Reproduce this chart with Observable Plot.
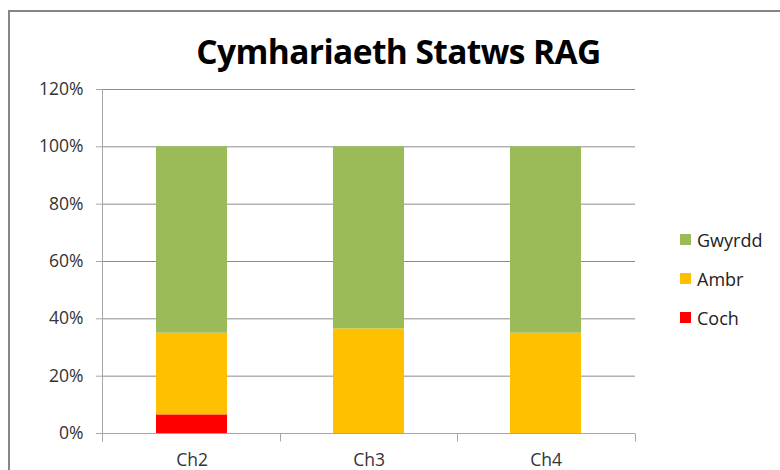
<!DOCTYPE html>
<html>
<head>
<meta charset="utf-8">
<script src="https://cdn.jsdelivr.net/npm/d3@7"></script>
<script src="https://cdn.jsdelivr.net/npm/@observablehq/plot@0.6"></script>
<style>
  html, body { margin: 0; padding: 0; background: #fff; }
  #wrap { position: relative; width: 780px; height: 470px; overflow: hidden; font-family: "Open Sans", sans-serif; }
  #border { position: absolute; left: 8px; top: 10px; width: 800px; height: 500px; border-left: 2px solid #868686; border-top: 2px solid #868686; box-sizing: border-box; pointer-events: none; }
  #title { position: absolute; left: 0; width: 797px; top: 30px; text-align: center; font-weight: 700; font-size: 33.5px; color: #000; letter-spacing: -0.6px; line-height: 42px; }
  #legend { position: absolute; left: 680px; top: 220px; font-size: 18px; color: #222; }
  .item { display: flex; align-items: center; height: 39px; }
  .sw { width: 11px; height: 11px; margin-right: 6px; }
  #chart { position: absolute; left: 0; top: 0; }
</style>
</head>
<body>
<div id="wrap">
  <div id="chart"></div>
  <div id="border"></div>
  <div id="title">Cymhariaeth Statws RAG</div>
  <div id="legend"></div>
</div>
<script>
// Data (fractions of 100%)
const categories = ["Ch2", "Ch3", "Ch4"];
const seriesNames = ["Gwyrdd", "Ambr", "Coch"];   // legend order (top to bottom)
const stackOrder = ["Coch", "Ambr", "Gwyrdd"];    // stack order (bottom to top)
const coch   = [0.065, 0, 0];
const ambr   = [0.285, 0.365, 0.35];
const gwyrdd = [0.65, 0.635, 0.65];
const yTicks = [0, 0.2, 0.4, 0.6, 0.8, 1.0, 1.2];
const seriesColors = {Gwyrdd: "#9BBB59", Ambr: "#FFC000", Coch: "#FF0000"};

const valuesBySeries = {Coch: coch, Ambr: ambr, Gwyrdd: gwyrdd};
const rows = [];
for (const s of stackOrder) {
  categories.forEach((c, i) => rows.push({cat: c, series: s, value: valuesBySeries[s][i]}));
}

const axisColor = "#a6a6a6";
const gridColor = "#8c8c8c";

function axisLines(index, scales, values, dims) {
  const {width, marginLeft, marginRight} = dims;
  const n = categories.length;
  const step = (width - marginLeft - marginRight) / n;
  const y0 = Math.round(scales.y(0)) + 0.5;
  const yTop = Math.round(scales.y(yTicks[yTicks.length - 1])) + 0.5;
  const g = d3.create("svg:g").attr("stroke", axisColor).attr("stroke-width", 1);
  const xl = Math.round(marginLeft) + 0.5;
  g.append("line").attr("x1", xl).attr("x2", xl).attr("y1", yTop).attr("y2", y0 + 8);
  for (let i = 0; i <= n; i++) {
    const x = Math.round(marginLeft + i * step) + 0.5;
    g.append("line").attr("x1", x).attr("x2", x).attr("y1", y0).attr("y2", y0 + 8);
  }
  return g.node();
}

const plot = Plot.plot({
  width: 780,
  height: 470,
  marginLeft: 102,
  marginRight: 145,
  marginTop: 89,
  marginBottom: 37,
  style: {fontFamily: "Open Sans, sans-serif", fontSize: "17.5px", color: "#333", background: "transparent"},
  x: {domain: categories, paddingInner: 0.6, paddingOuter: 0.3, label: null},
  y: {domain: [0, 1.2], label: null},
  color: {domain: seriesNames, range: seriesNames.map(s => seriesColors[s])},
  marks: [
    Plot.gridY(yTicks, {stroke: gridColor, strokeOpacity: 1}),
    Plot.barY(rows, {x: "cat", y: "value", fill: "series", order: stackOrder}),
    Plot.ruleY([0], {stroke: axisColor}),
    Plot.axisY(yTicks, {tickFormat: d3.format(".0%"), tickSize: 6, tickPadding: 13, stroke: axisColor, fill: "#333", fontSize: 17.5, label: null}),
    Plot.axisX({tickSize: 0, tickPadding: 20, fill: "#333", fontSize: 17.5, label: null}),
    axisLines
  ]
});
document.getElementById("chart").appendChild(plot);

const legend = document.getElementById("legend");
for (const s of seriesNames) {
  const item = document.createElement("div");
  item.className = "item";
  const sw = document.createElement("div");
  sw.className = "sw";
  sw.style.background = seriesColors[s];
  const t = document.createElement("span");
  t.textContent = s;
  item.appendChild(sw);
  item.appendChild(t);
  legend.appendChild(item);
}
</script>
</body>
</html>
